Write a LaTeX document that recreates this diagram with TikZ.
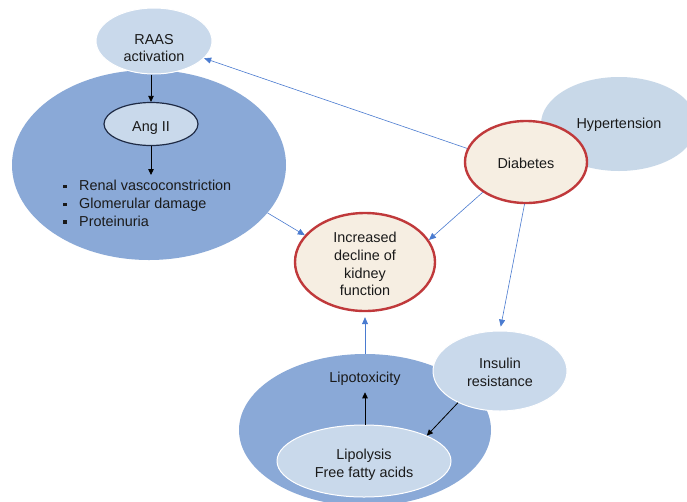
\documentclass[tikz,border=0pt]{standalone}
\usepackage{fontspec}
\setmainfont{Liberation Sans}
\usetikzlibrary{shapes.geometric,arrows.meta}
\definecolor{bigblue}{HTML}{8AA9D7}
\definecolor{lightblue}{HTML}{C9D9EB}
\definecolor{hypblue}{HTML}{C8D8E8}
\definecolor{cream}{HTML}{F6EEE2}
\definecolor{redb}{HTML}{C0393B}
\definecolor{arrblue}{HTML}{4A7BD0}
\definecolor{navy}{HTML}{1E2A44}
\definecolor{txt}{HTML}{1A1A1A}
\newcommand{\bulsq}{\rule[2.2pt]{3.4pt}{3.4pt}\hspace{12.6pt}}
\begin{document}
\begin{tikzpicture}[x=1pt,y=-1pt,
  every node/.style={font=\fontsize{14.4}{17.8}\selectfont, text=txt},
  ell/.style={ellipse, inner sep=0pt, align=center},
  bigell/.style={ell, fill=bigblue},
  lightell/.style={ell, fill=lightblue, draw=white, line width=1pt},
  keyell/.style={ell, fill=cream, draw=redb, line width=2.4pt},
  blarrow/.style={draw=arrblue, line width=0.6pt, -{Triangle[length=7pt,width=6pt]}},
  bkarrow/.style={draw=black, line width=0.8pt, -{Triangle[length=6pt,width=5.5pt]}},
  lbl/.style={align=center, inner sep=0pt}
]
\useasboundingbox (0,0) rectangle (687,501);
\clip (0,0) rectangle (687,501);
\fill[white] (0,0) rectangle (687,501);

% left cluster
\node[bigell, minimum width=274, minimum height=190] (bigL) at (149,165) {};
\node[lightell, minimum width=116, minimum height=66] (raas) at (154,41) {};
\node[lbl] (raast) at (154,48) {RAAS\\activation};
\node[ell, fill=lightblue, draw=navy, line width=1.2pt, minimum width=94, minimum height=43] (ang) at (151,124) {};
\node[lbl] (angt) at (151,128) {Ang II};
\coordinate (listtop) at (151,175);
\node[anchor=base west, inner sep=0pt, align=left] (list) at (63,226)
  {\bulsq Renal vascoconstriction\\ \bulsq Glomerular damage\\ \bulsq Proteinuria};

% right cluster
\node[ell, fill=hypblue, minimum width=156, minimum height=94] (hyp) at (619,124) {};
\node[lbl] (hypt) at (619,125) {Hypertension};
\node[keyell, minimum width=122, minimum height=82] (dia) at (526,162) {};
\node[lbl] (diat) at (526,163) {Diabetes};

% centre
\node[keyell, minimum width=140, minimum height=98] (kid) at (365,262) {};
\node[lbl] (kidt) at (365,264) {Increased\\decline of\\kidney\\function};

% bottom cluster
\node[bigell, minimum width=252, minimum height=152] (bigB) at (365,430) {};
\node (ltox) at (365,379) {Lipotoxicity};
\node[lightell, minimum width=174, minimum height=72] (lipo) at (364,461) {};
\node[lbl] (lipot) at (364,465) {Lipolysis\\Free fatty acids};
\node[lightell, minimum width=134, minimum height=80] (ins) at (500,371) {};
\node[lbl] (inst) at (500,372) {Insulin\\resistance};

% connectors
\draw[blarrow] (dia.167) -- (raas.341);
\draw[blarrow] (bigL.338) -- (kid.156);
\draw[blarrow] (dia.215) -- (kid.19);
\draw[blarrow, shorten >=4pt] (dia.268) -- (ins.north);
\draw[blarrow, shorten >=5pt] (bigB.north) -- (kid.south);
\draw[bkarrow] (ang.north |- raas.south) -- (ang.north);
\draw[bkarrow] (ang.south) -- (listtop);
\draw[bkarrow, shorten >=3pt] (ltox.south |- lipo.north) -- (ltox.south);
\draw[bkarrow] (ins.217) -- (lipo.22);
\end{tikzpicture}
\end{document}
